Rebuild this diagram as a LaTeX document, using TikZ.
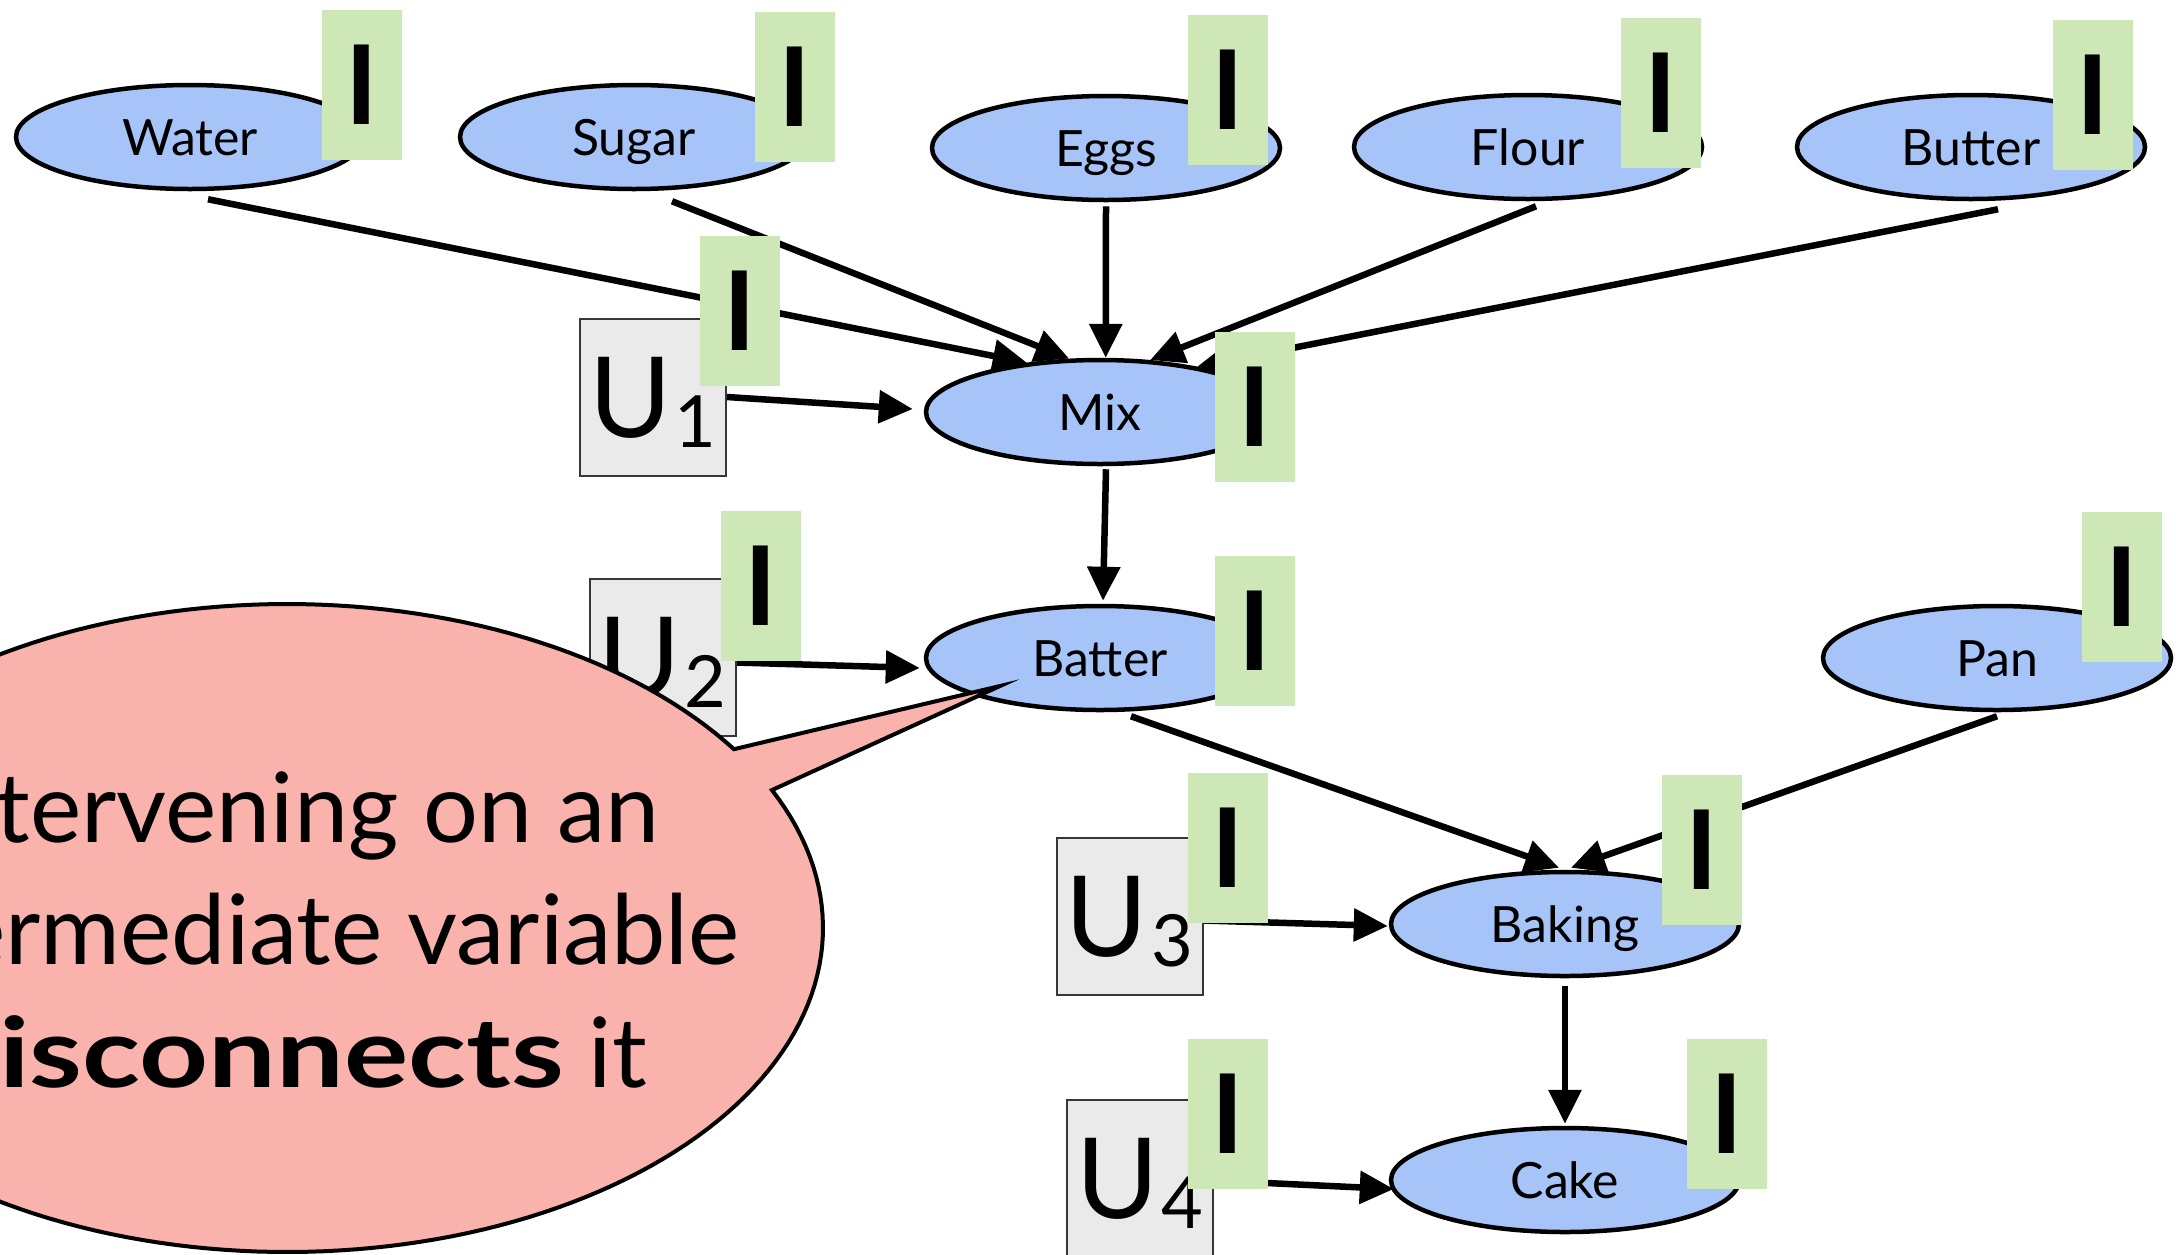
\documentclass[tikz,border=0pt]{standalone}
\usepackage{fontspec}
\setmainfont{Lato}
\newfontfamily\widefont{Lato}[FakeStretch=1.24]
\usetikzlibrary{shapes.geometric,arrows.meta}

\definecolor{nodeblue}{RGB}{166,196,248}
\definecolor{taggreen}{RGB}{205,231,182}
\definecolor{noisefill}{RGB}{234,234,234}
\definecolor{noiseline}{RGB}{55,55,55}
\definecolor{calloutpink}{RGB}{250,178,172}

\pgfdeclarelayer{edges}
\pgfsetlayers{edges,main}

% subscripted noise label
\newcommand\noiselabel[1]{U\kern3pt\raisebox{-10pt}{\fontsize{72}{72}\selectfont #1}}

\tikzset{
  var/.style={ellipse, draw=black, line width=4.5pt, fill=nodeblue,
    minimum width=348pt, minimum height=104pt, inner sep=0pt,
    text height=36pt, text depth=0pt,
    font=\fontsize{50}{60}\selectfont},
  tag/.style={rectangle, fill=taggreen, minimum width=80pt,
    minimum height=150pt, inner sep=0pt,
    font=\fontsize{110}{116}\selectfont\bfseries},
  noise/.style={rectangle, draw=noiseline, line width=2pt, fill=noisefill,
    minimum width=146pt, minimum height=157pt, inner sep=0pt,
    text height=80pt, text depth=0pt,
    font=\fontsize{112}{120}\selectfont},
  link/.style={line width=6.5pt, -{Triangle[length=34pt,width=32pt]}},
  callout/.style={fill=calloutpink, draw=black, line width=4pt,
    line join=miter, miter limit=14},
  callouttext/.style={inner sep=0pt, anchor=base east,
    font=\fontsize{97}{122}\selectfont},
}

\begin{document}
\begin{tikzpicture}[x=1pt,y=-1pt]
\useasboundingbox (0,0) rectangle (2176,1254);
\clip (0,0) rectangle (2176,1254);

% variables
\node[var] (water)  at (190,137)  {Water};
\node[var] (sugar)  at (634,137)  {Sugar};
\node[var] (eggs)   at (1106,148) {Eggs};
\node[var] (flour)  at (1528,147) {Flour};
\node[var] (butter) at (1971,147) {Butter};
\node[var] (mix)    at (1100,412) {Mix};
\node[var] (batter) at (1100,658) {Batter};
\node[var] (pan)    at (1997,658) {Pan};
\node[var] (baking) at (1565,924) {Baking};
\node[var] (cake)   at (1565,1180) {Cake};

% exogenous noise terms
\node[noise] (u1) at (653,397)    {\noiselabel{1}};
\node[noise] (u2) at (662.5,657.5) {\noiselabel{2}};
\node[noise] (u3) at (1129.5,916.5) {\noiselabel{3}};
\node[noise] (u4) at (1140,1178.5) {\noiselabel{4}};

% causal edges
\begin{pgfonlayer}{edges}
\draw[link] ([xshift=18pt,yshift=-8pt]water.south) -- (mix.146);
\draw[link] ([xshift=38pt,yshift=-10pt]sugar.south) -- (mix.120);
\draw[link] ([yshift=-4pt]eggs.south) -- (mix.84);
\draw[link] ([xshift=8pt,yshift=-5pt]flour.south) -- (mix.46);
\draw[link] ([xshift=27pt,yshift=-8pt]butter.south) -- (mix.25);
\draw[link] (u1.east) -- ([xshift=-11pt,yshift=3pt]mix.west);
\draw[link] ([xshift=6pt,yshift=-3pt]mix.south) -- ([xshift=3pt,yshift=3pt]batter.north);
\draw[link] ([yshift=-5pt]u2.east) -- ([xshift=-4pt,yshift=-10pt]batter.west);
\draw[link] ([xshift=31pt,yshift=-4pt]batter.south) -- ([xshift=-6pt,yshift=2pt]baking.north);
\draw[link] ([yshift=-4pt]pan.south) -- ([xshift=6pt,yshift=2pt]baking.north);
\draw[link] ([yshift=-4pt]u3.east) -- ([xshift=-1pt,yshift=-2pt]baking.west);
\draw[link] ([yshift=-8pt]baking.south) -- ([yshift=2pt]cake.north);
\draw[link] ([yshift=-2pt]u4.east) -- ([xshift=5pt,yshift=-9pt]cake.west);
\end{pgfonlayer}

% speech bubble pointing at Batter
\coordinate (tailtip) at (1000,686);
\filldraw[callout] plot[domain=-25.2:326.5, samples=200]
  ({287+536*cos(\x)},{928+324*sin(\x)}) -- (tailtip) -- cycle;
\node[callouttext] (say1) at (660,842)  {Intervening on an};
\node[callouttext] (say2) at (740,964)  {intermediate variable};
\node[callouttext] (say3) at (647,1087) {{\widefont\bfseries disconnects} it};

% intervention tags
\node[tag] (tagwater)  at (362,85)     {I};
\node[tag] (tagsugar)  at (795,86.5)   {I};
\node[tag] (tageggs)   at (1228,89.5)  {I};
\node[tag] (tagflour)  at (1661,92.5)  {I};
\node[tag] (tagbutter) at (2093,95)    {I};
\node[tag] (tagu1)     at (739.5,311)  {I};
\node[tag] (tagmix)    at (1254.5,407) {I};
\node[tag] (tagu2)     at (760.5,586)  {I};
\node[tag] (tagbatter) at (1254.5,630.5) {I};
\node[tag] (tagpan)    at (2122,586.5) {I};
\node[tag] (tagu3)     at (1228,847.5) {I};
\node[tag] (tagbaking) at (1701.5,850) {I};
\node[tag] (tagu4)     at (1228,1113.5) {I};
\node[tag] (tagcake)   at (1726.5,1113.5) {I};
\end{tikzpicture}
\end{document}
